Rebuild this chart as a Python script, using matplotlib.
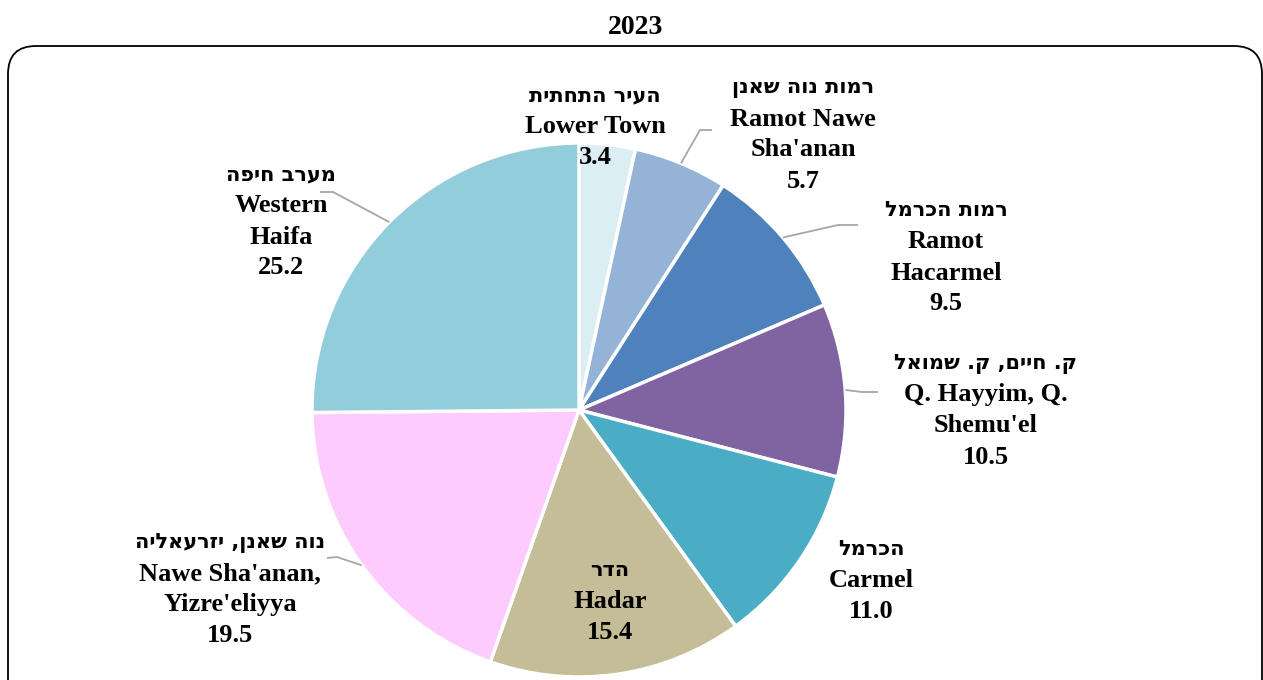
import numpy as np
import matplotlib.pyplot as plt
from matplotlib.patches import FancyBboxPatch

# data, clockwise from 12 o'clock
names_he = ["העיר התחתית", "רמות נוה שאנן", "רמות הכרמל", "ק. חיים, ק. שמואל",
            "הכרמל", "הדר", "נוה שאנן, יזרעאליה", "מערב חיפה"]
names_en = ["Lower Town", "Ramot Nawe\nSha'anan", "Ramot\nHacarmel", "Q. Hayyim, Q.\nShemu'el",
            "Carmel", "Hadar", "Nawe Sha'anan,\nYizre'eliyya", "Western\nHaifa"]
shares = [3.4, 5.7, 9.5, 10.5, 11.0, 15.4, 19.5, 25.2]
colors = ["#DAEEF3", "#95B3D7", "#4F81BD", "#8064A2",
          "#4BACC6", "#C4BD97", "#FDCBFE", "#92CDDC"]
title = "2023"

W, H = 1263, 680
fig = plt.figure(figsize=(W / 100, H / 100), dpi=100)
ax = fig.add_axes([0, 0, 1, 1])


def px(x, y):
    # pixel coords (top-left origin) -> data coords
    return x, H - y


cx, cy = px(579, 410)
R = 267
wedges, _ = ax.pie(shares, colors=colors, startangle=90, counterclock=False,
                   center=(cx, cy), radius=R,
                   wedgeprops=dict(edgecolor="white", linewidth=2.5))
ax.set_xlim(0, W)
ax.set_ylim(0, H)
ax.set_aspect("equal")
ax.axis("off")

latin = dict(family=["Liberation Serif", "DejaVu Serif"], fontweight="bold", fontsize=19)
hebrew = dict(family=["DejaVu Sans"], fontweight="bold", fontsize=15)

# label block centres (px) and optional leader elbow / end points
label_pos = [(595, 124), (803, 132), (946, 255), (986, 408),
             (871, 578), (610, 599), (230, 587), (281, 219)]
leaders = [None, [(700, 130), (712, 130)], [(838, 225), (858, 225)],
           [(862, 392), (878, 392)], None, None,
           [(337, 557), (327, 558)], [(333, 192), (320, 192)]]
step = 31

for w, he, en, val, (lx, ly), ld in zip(wedges, names_he, names_en, shares,
                                        label_pos, leaders):
    lines = [he[::-1]] + en.split("\n") + [f"{val:.1f}"]
    y0 = ly - step * (len(lines) - 1) / 2
    for i, s in enumerate(lines):
        style = hebrew if i == 0 else latin
        ax.text(*px(lx, y0 + i * step), s, ha="center", va="center_baseline", **style)
    if ld:
        ang = np.deg2rad((w.theta1 + w.theta2) / 2)
        pts = [(cx + R * np.cos(ang), cy + R * np.sin(ang))] + [px(*p) for p in ld]
        xs, ys = zip(*pts)
        ax.plot(xs, ys, color="#A6A6A6", lw=1.3, solid_capstyle="butt")

ax.text(*px(636, 28), title, ha="center", va="center", **{**latin, "fontsize": 20})

# rounded chart-area frame, bottom runs past the image edge
frame = FancyBboxPatch(px(8, 720), 1254, 674,
                       boxstyle="round,pad=0,rounding_size=28",
                       fill=False, edgecolor="black", lw=1.3, clip_on=False)
ax.add_patch(frame)

fig.savefig("out.png", dpi=100)
